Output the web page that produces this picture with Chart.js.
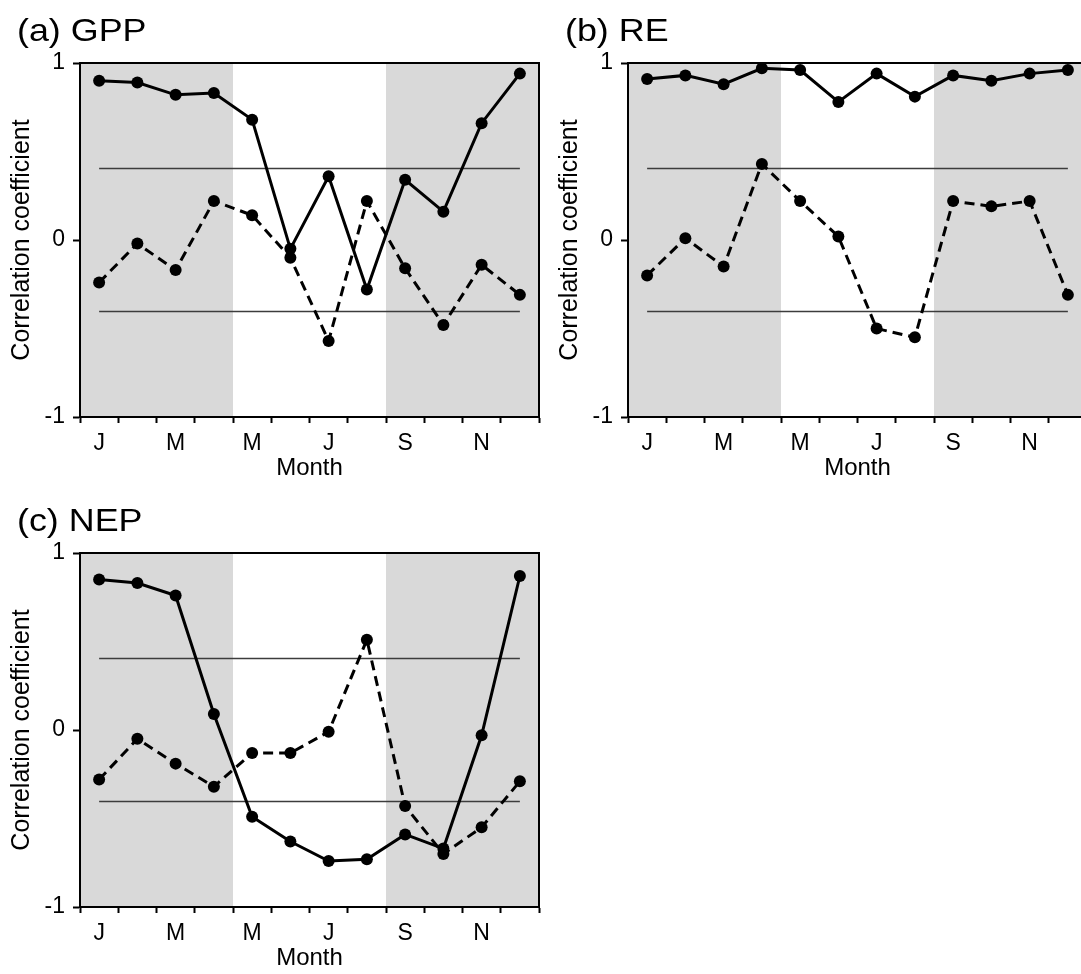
<!DOCTYPE html>
<html>
<head>
<meta charset="utf-8">
<title>Monthly correlation coefficients: GPP, RE, NEP</title>
<script src="https://cdn.jsdelivr.net/npm/chart.js@4.4.1/dist/chart.umd.min.js"></script>
<style>
  html, body { margin: 0; padding: 0; overflow: hidden; background: #fff; width: 1081px; height: 974px; }
  canvas { position: absolute; display: block; }
  #ca { left: 0; top: 0; }
  #cb { left: 548px; top: 0; }
  #cc { left: 0; top: 490px; }
</style>
</head>
<body>
<canvas id="ca" width="545" height="490"></canvas>
<canvas id="cb" width="545" height="490"></canvas>
<canvas id="cc" width="545" height="490"></canvas>
<script>
// Months on the x axis and the initials printed under every other month
const months = ['Jan', 'Feb', 'Mar', 'Apr', 'May', 'Jun', 'Jul', 'Aug', 'Sep', 'Oct', 'Nov', 'Dec'];
const monthTickLabels = ['J', '', 'M', '', 'M', '', 'J', '', 'S', '', 'N', ''];

// Shaded seasons (first and last month of each span)
const shadedSpans = [['Jan', 'Apr'], ['Sep', 'Dec']];

// Significance threshold for the correlation coefficient (±)
const significance = 0.404;

// (a) GPP
const gppSolid  = [0.90, 0.89, 0.82, 0.83, 0.68, -0.05, 0.36, -0.28, 0.34, 0.16, 0.66, 0.94];
const gppDashed = [-0.24, -0.02, -0.17, 0.22, 0.14, -0.10, -0.57, 0.22, -0.16, -0.48, -0.14, -0.31];

// (b) RE
const reSolid  = [0.91, 0.93, 0.88, 0.97, 0.96, 0.78, 0.94, 0.81, 0.93, 0.90, 0.94, 0.96];
const reDashed = [-0.20, 0.01, -0.15, 0.43, 0.22, 0.02, -0.50, -0.55, 0.22, 0.19, 0.22, -0.31];

// (c) NEP
const nepSolid  = [0.85, 0.83, 0.76, 0.09, -0.49, -0.63, -0.74, -0.73, -0.59, -0.67, -0.03, 0.87];
const nepDashed = [-0.28, -0.05, -0.19, -0.32, -0.13, -0.13, -0.01, 0.51, -0.43, -0.70, -0.55, -0.29];

const FONT = '"Liberation Sans", Arial, Helvetica, sans-serif';
Chart.defaults.font.family = FONT;
Chart.defaults.color = '#000';

// Gray season bands behind everything
const seasonBands = {
  id: 'seasonBands',
  beforeDraw(chart) {
    const { ctx, chartArea: a, scales: { x } } = chart;
    const band = (x.right - x.left) / months.length;
    ctx.save();
    ctx.fillStyle = '#d9d9d9';
    shadedSpans.forEach(([from, to]) => {
      const x0 = x.getPixelForValue(months.indexOf(from)) - band / 2;
      const x1 = x.getPixelForValue(months.indexOf(to)) + band / 2;
      ctx.fillRect(x0, a.top, x1 - x0, a.bottom - a.top);
    });
    ctx.restore();
  }
};

// Top and right edges of the plot frame, plus the panel heading
const frameAndHeading = {
  id: 'frameAndHeading',
  afterDraw(chart, args, opts) {
    const { ctx, chartArea: a } = chart;
    ctx.save();
    ctx.strokeStyle = '#000';
    ctx.lineWidth = 2;
    ctx.beginPath();
    ctx.moveTo(a.left, a.top);
    ctx.lineTo(a.right, a.top);
    ctx.lineTo(a.right, a.bottom);
    ctx.stroke();
    ctx.fillStyle = '#000';
    ctx.font = '32px ' + FONT;
    ctx.textBaseline = 'alphabetic';
    ctx.textAlign = 'left';
    ctx.translate(17, 41);
    ctx.scale(1.12, 1);
    ctx.fillText(opts.text, 0, 0);
    ctx.restore();
  }
};

function makePanel(id, heading, solid, dashed) {
  return new Chart(document.getElementById(id), {
    type: 'line',
    data: {
      labels: months,
      datasets: [
        { data: solid, borderColor: '#000', borderWidth: 3, pointRadius: 6, pointBackgroundColor: '#000', pointBorderWidth: 0, tension: 0, clip: false },
        { data: dashed, borderColor: '#000', borderWidth: 3, borderDash: [10, 6], pointRadius: 6, pointBackgroundColor: '#000', pointBorderWidth: 0, tension: 0, clip: false },
        { data: months.map(() => significance), borderColor: '#3c3c3c', borderWidth: 1.4, pointRadius: 0 },
        { data: months.map(() => -significance), borderColor: '#3c3c3c', borderWidth: 1.4, pointRadius: 0 }
      ]
    },
    options: {
      responsive: false,
      animation: false,
      events: [],
      layout: { padding: { top: 63, right: 5, left: 0, bottom: 0 } },
      plugins: {
        legend: { display: false },
        tooltip: { enabled: false },
        frameAndHeading: { text: heading }
      },
      scales: {
        x: {
          type: 'category',
          offset: true,
          grid: { offset: true, drawOnChartArea: false, drawTicks: true, tickLength: 6, tickWidth: 2, tickColor: '#000' },
          border: { display: true, color: '#000', width: 2 },
          ticks: { autoSkip: false, maxRotation: 0, minRotation: 0, color: '#000', font: { size: 23 }, padding: 7,
                   callback: (v, i) => monthTickLabels[i] },
          title: { display: true, text: 'Month', color: '#000', font: { size: 24 }, padding: { top: 0, bottom: 7 } },
          afterFit: s => { s.height = 73; }
        },
        y: {
          min: -1, max: 1,
          ticks: { stepSize: 1, color: '#000', font: { size: 23 }, padding: 8 },
          grid: { drawOnChartArea: false, drawTicks: true, tickLength: 7, tickWidth: 2, tickColor: '#000' },
          border: { display: true, color: '#000', width: 2 },
          title: { display: true, text: 'Correlation coefficient', color: '#000', font: { size: 25 }, padding: { top: 7, bottom: 0 } },
          afterFit: s => { s.width = 80; }
        }
      }
    },
    plugins: [seasonBands, frameAndHeading]
  });
}

makePanel('ca', '(a) GPP', gppSolid, gppDashed);
makePanel('cb', '(b) RE', reSolid, reDashed);
makePanel('cc', '(c) NEP', nepSolid, nepDashed);
</script>
</body>
</html>
